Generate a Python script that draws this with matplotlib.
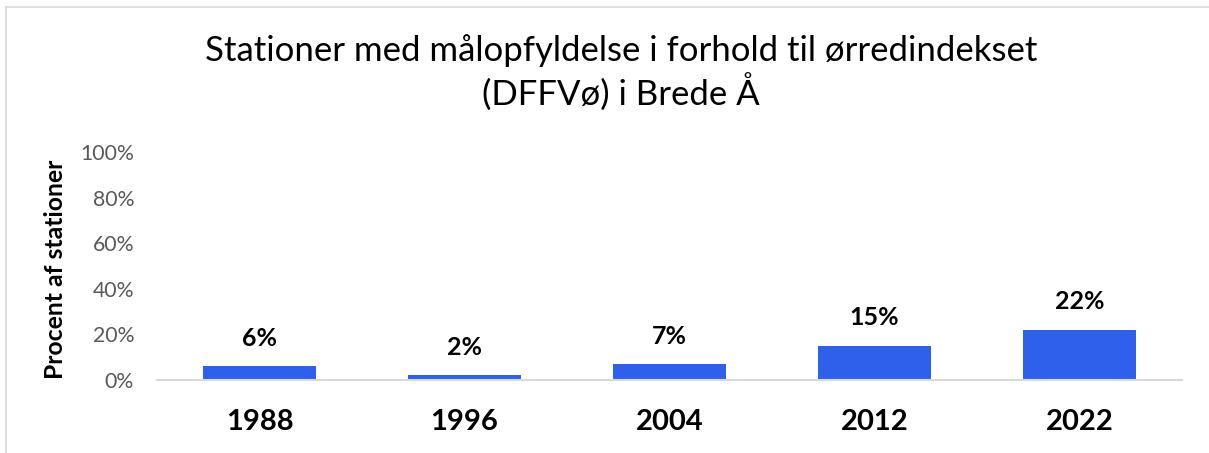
import numpy as np
import matplotlib
matplotlib.use('Agg')
import matplotlib.pyplot as plt
from matplotlib.lines import Line2D
from matplotlib.ticker import PercentFormatter

# Data
years = ['1988', '1996', '2004', '2012', '2022']
share = [0.06, 0.02, 0.07, 0.15, 0.22]
y_ticks = [0.0, 0.2, 0.4, 0.6, 0.8, 1.0]

title = 'Stationer med målopfyldelse i forhold til ørredindekset\n(DFFVø) i Brede Å'
ylabel = 'Procent af stationer'

bar_color = '#2F60EB'
font = 'Lato'

plt.rcParams['font.family'] = [font, 'DejaVu Sans']

fig = plt.figure(figsize=(12.09, 4.53), dpi=100)
ax = fig.add_axes([157 / 1209, 1 - 380 / 453, 1025 / 1209, 228 / 453])

x = np.arange(len(years))
bars = ax.bar(x, share, width=0.556, color=bar_color, zorder=2)

ax.set_xlim(-0.5, len(years) - 0.5)
ax.set_ylim(0, 1)
ax.set_yticks(y_ticks)
ax.yaxis.set_major_formatter(PercentFormatter(1.0, decimals=0))
ax.set_xticks(x)
ax.set_xticklabels(years, fontsize=21, fontweight='bold')
ax.tick_params(axis='y', labelsize=15.3, labelcolor='#595959', length=0, pad=16.5)
ax.tick_params(axis='x', length=0, pad=21)

for s in ['top', 'right', 'left']:
    ax.spines[s].set_visible(False)
ax.spines['bottom'].set_color('#D9D9D9')
ax.spines['bottom'].set_linewidth(1.5)

for rect, v in zip(bars, share):
    ax.annotate('%d%%' % round(v * 100),
                (rect.get_x() + rect.get_width() / 2, v),
                xytext=(0, 28), textcoords='offset pixels',
                ha='center', va='center', fontsize=18, fontweight='bold')

ax.set_ylabel(ylabel, fontsize=17.8, fontweight='bold')
ax.yaxis.set_label_coords((67 - 157) / 1025, (380 - 269) / 228)

fig.text(621 / 1209, 1 - 73 / 453, title, ha='center', va='center',
         fontsize=25, linespacing=1.2)

# chart frame (only left and top edges are visible in the crop)
frame = '#D9D9D9'
fig.add_artist(Line2D([6 / 1209, 6 / 1209], [0, 1 - 7 / 453], color=frame, lw=1.2))
fig.add_artist(Line2D([6 / 1209, 1], [1 - 7 / 453, 1 - 7 / 453], color=frame, lw=1.2))

plt.savefig('out.png', dpi=100)
